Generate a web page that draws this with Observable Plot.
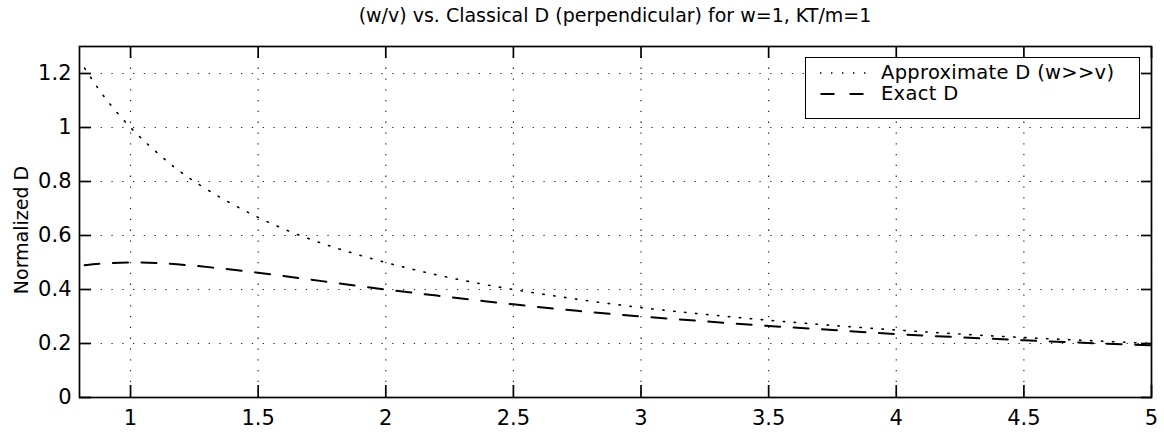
<!DOCTYPE html>
<html><head><meta charset="utf-8">
<script src="https://cdn.jsdelivr.net/npm/d3@7"></script>
<script src="https://cdn.jsdelivr.net/npm/@observablehq/plot@0.6"></script>
<style>
body{margin:0;background:#fff;font-family:"DejaVu Sans",sans-serif;color:#000;}
#wrap{position:relative;width:1164px;height:432px;overflow:hidden;}
#title{height:30px;line-height:30px;font-size:19px;text-align:center;padding-left:66px;box-sizing:border-box;width:1164px;white-space:nowrap;}
#chart svg{display:block;}
#legend{position:absolute;left:805px;top:57px;width:335px;height:62px;border:1px solid #000;background:#fff;box-sizing:border-box;font-size:19.5px;}
.row{position:absolute;left:0;width:330px;height:20px;}
.row svg{position:absolute;left:14px;top:0;}
.row span{position:absolute;left:75px;top:0;line-height:20px;white-space:nowrap;letter-spacing:0.3px;}
</style></head><body>
<div id="wrap"><div id="title"></div><div id="chart"></div><div id="legend"></div></div>
<script>
const titleText = "(w/v) vs. Classical D (perpendicular) for w=1, KT/m=1";
const yLabel = "Normalized D";
const seriesNames = ["Approximate D (w>>v)", "Exact D"];
const xs      = [0.82, 0.9, 1, 1.1, 1.25, 1.5, 1.75, 2, 2.25, 2.5, 2.75, 3, 3.25, 3.5, 3.75, 4, 4.25, 4.5, 4.75, 5];
const approxD = [1.22, 1.11, 1.0, 0.91, 0.80, 0.667, 0.571, 0.50, 0.444, 0.40, 0.364, 0.333, 0.308, 0.286, 0.267, 0.25, 0.235, 0.222, 0.211, 0.20];
const exactD  = [0.49, 0.497, 0.50, 0.498, 0.488, 0.462, 0.431, 0.40, 0.372, 0.345, 0.321, 0.30, 0.282, 0.265, 0.25, 0.235, 0.223, 0.212, 0.202, 0.193];
const xTicks = [1, 1.5, 2, 2.5, 3, 3.5, 4, 4.5, 5];
const yTicks = [0, 0.2, 0.4, 0.6, 0.8, 1, 1.2];

document.getElementById("title").textContent = titleText;

const data = xs.map((x, i) => ({x, approx: approxD[i], exact: exactD[i]}));
const fmt = d => String(+d.toFixed(2));
const gridStyle = {stroke: "#000", strokeOpacity: 0.85, strokeWidth: 1.2, strokeDasharray: "1.3,9.5"};
const tk = {fill: "none", label: null, stroke: "#000", strokeWidth: 1.7};

const chart = Plot.plot({
  width: 1164, height: 402,
  marginTop: 16, marginBottom: 35, marginLeft: 79, marginRight: 13,
  style: {fontFamily: "DejaVu Sans", fontSize: "21px", color: "#000", background: "#fff"},
  x: {domain: [0.8, 5]},
  y: {domain: [0, 1.3]},
  marks: [
    Plot.gridX(xTicks, gridStyle),
    Plot.gridY(yTicks, gridStyle),
    Plot.lineY(data, {x: "x", y: "approx", curve: "natural", stroke: "#000", strokeWidth: 1.6, strokeDasharray: "1.4,9.6"}),
    Plot.lineY(data, {x: "x", y: "exact", curve: "natural", stroke: "#000", strokeWidth: 2, strokeDasharray: "15,13.5"}),
    Plot.frame({stroke: "#000", strokeWidth: 1.7}),
    Plot.axisX(xTicks, {anchor: "bottom", tickSize: 12, dy: -12, ...tk}),
    Plot.axisX(xTicks, {anchor: "top", tickSize: 11, dy: 11, ...tk}),
    Plot.axisY(yTicks, {anchor: "left", tickSize: 12, dx: 12, ...tk}),
    Plot.axisY(yTicks, {anchor: "right", tickSize: 11, dx: -11, ...tk}),
    Plot.axisX(xTicks, {anchor: "bottom", tickSize: 0, tickPadding: 13, label: null, tickFormat: fmt, fontSize: 21}),
    Plot.axisY(yTicks, {anchor: "left", tickSize: 0, tickPadding: 8, label: null, tickFormat: fmt, fontSize: 21}),
    Plot.text([yLabel], {frameAnchor: "left", rotate: -90, dx: -58, dy: 8, fontSize: 19, textAnchor: "middle"})
  ]
});
document.getElementById("chart").appendChild(chart);

const legend = document.getElementById("legend");
const samples = [
  '<svg width="50" height="20"><line x1="0" x2="48" y1="10" y2="10" stroke="#000" stroke-width="1.6" stroke-dasharray="1.4,9.6"/></svg>',
  '<svg width="50" height="20"><line x1="0.5" x2="49" y1="10" y2="10" stroke="#000" stroke-width="2" stroke-dasharray="14,15"/></svg>'
];
seriesNames.forEach((name, i) => {
  const row = document.createElement("div");
  row.className = "row";
  row.style.top = (5 + 21 * i) + "px";
  row.innerHTML = samples[i];
  const span = document.createElement("span");
  span.textContent = name;
  row.appendChild(span);
  legend.appendChild(row);
});
</script>
</body></html>
